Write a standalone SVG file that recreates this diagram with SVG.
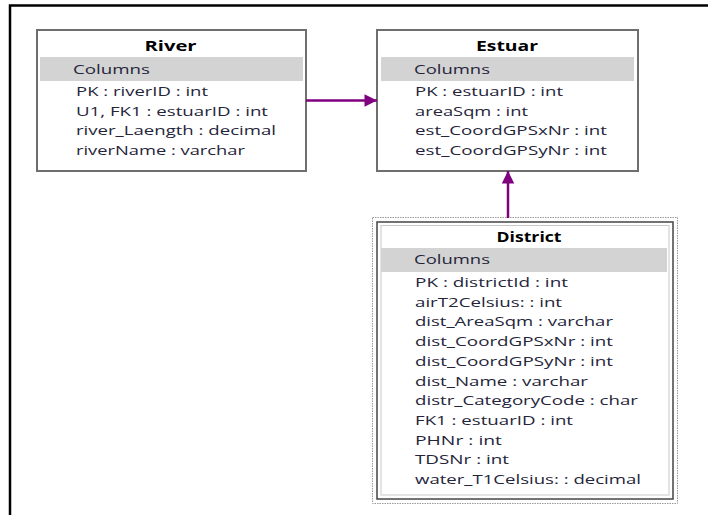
<svg xmlns="http://www.w3.org/2000/svg" width="708" height="515" viewBox="0 0 708 515">
<style>
.frame{fill:none;stroke:#000;stroke-width:2.5}
.box{fill:#fff;stroke:#6e6e6e;stroke-width:2}
.band{fill:#d3d3d3}
.title{font-family:"Open Sans","Noto Sans",sans-serif;font-size:14px;font-weight:bold;fill:#000}
.col{font-family:"Open Sans","Noto Sans",sans-serif;font-size:13.5px;fill:#25253a}
.conn{stroke:#800080;stroke-width:2.5;fill:none}
</style>
<defs>
<marker id="arr" viewBox="0 0 10 10" refX="10" refY="5" markerWidth="6" markerHeight="5" markerUnits="strokeWidth" orient="auto">
<path d="M0,0 L10,5 L0,10 z" fill="#800080"/>
</marker>
</defs>
<rect width="708" height="515" fill="#fff"/>
<path class="frame" d="M10,515 L10,5.5 L708,5.5"/>
<g id="river">
<rect class="box" x="37" y="30" width="269" height="141"/>
<rect class="band" x="40" y="57" width="263" height="24"/>
<text class="title" x="144.5" y="51" textLength="52" lengthAdjust="spacingAndGlyphs">River</text>
<text class="col" x="73" y="74" textLength="77" lengthAdjust="spacingAndGlyphs">Columns</text>
<text class="col" x="76" y="96" textLength="132" lengthAdjust="spacingAndGlyphs">PK : riverID : int</text>
<text class="col" x="76" y="115.5" textLength="192" lengthAdjust="spacingAndGlyphs">U1, FK1 : estuarID : int</text>
<text class="col" x="76" y="135" textLength="200" lengthAdjust="spacingAndGlyphs">river_Laength : decimal</text>
<text class="col" x="76" y="154.5" textLength="169" lengthAdjust="spacingAndGlyphs">riverName : varchar</text>
</g>
<g id="estuar">
<rect class="box" x="377" y="30" width="261" height="141"/>
<rect class="band" x="381" y="57" width="253" height="24"/>
<text class="title" x="476" y="51" textLength="62" lengthAdjust="spacingAndGlyphs">Estuar</text>
<text class="col" x="414" y="74" textLength="76" lengthAdjust="spacingAndGlyphs">Columns</text>
<text class="col" x="415" y="96" textLength="148" lengthAdjust="spacingAndGlyphs">PK : estuarID : int</text>
<text class="col" x="415" y="115.5" textLength="113" lengthAdjust="spacingAndGlyphs">areaSqm : int</text>
<text class="col" x="415" y="135" textLength="192" lengthAdjust="spacingAndGlyphs">est_CoordGPSxNr : int</text>
<text class="col" x="415" y="154.5" textLength="192" lengthAdjust="spacingAndGlyphs">est_CoordGPSyNr : int</text>
</g>
<g id="district">
<rect x="372.5" y="217.5" width="305" height="286" fill="#fff" stroke="#9a9a9a" stroke-width="1" stroke-dasharray="1.5,1"/>
<rect x="377" y="222" width="296" height="277" fill="#fff" stroke="#444" stroke-width="1.5"/>
<rect x="381" y="225.5" width="288" height="269.5" fill="#fff" stroke="#c8c8c8" stroke-width="1"/>
<rect class="band" x="381" y="248" width="286" height="24"/>
<text class="title" x="496.5" y="242" textLength="65" lengthAdjust="spacingAndGlyphs">District</text>
<text class="col" x="414" y="264" textLength="76" lengthAdjust="spacingAndGlyphs">Columns</text>
<text class="col" x="415" y="287" textLength="153" lengthAdjust="spacingAndGlyphs">PK : districtId : int</text>
<text class="col" x="415" y="306.7" textLength="147" lengthAdjust="spacingAndGlyphs">airT2Celsius: : int</text>
<text class="col" x="415" y="326.4" textLength="198" lengthAdjust="spacingAndGlyphs">dist_AreaSqm : varchar</text>
<text class="col" x="415" y="346.1" textLength="198" lengthAdjust="spacingAndGlyphs">dist_CoordGPSxNr : int</text>
<text class="col" x="415" y="365.8" textLength="198" lengthAdjust="spacingAndGlyphs">dist_CoordGPSyNr : int</text>
<text class="col" x="415" y="385.5" textLength="173" lengthAdjust="spacingAndGlyphs">dist_Name : varchar</text>
<text class="col" x="415" y="405.2" textLength="223" lengthAdjust="spacingAndGlyphs">distr_CategoryCode : char</text>
<text class="col" x="415" y="424.9" textLength="158" lengthAdjust="spacingAndGlyphs">FK1 : estuarID : int</text>
<text class="col" x="415" y="444.6" textLength="87" lengthAdjust="spacingAndGlyphs">PHNr : int</text>
<text class="col" x="415" y="464.3" textLength="94" lengthAdjust="spacingAndGlyphs">TDSNr : int</text>
<text class="col" x="415" y="484" textLength="226" lengthAdjust="spacingAndGlyphs">water_T1Celsius: : decimal</text>
</g>
<g id="connectors">
<line class="conn" x1="306" y1="100.5" x2="377" y2="100.5" marker-end="url(#arr)"/>
<line class="conn" x1="508" y1="218" x2="508" y2="171" marker-end="url(#arr)"/>
</g>
</svg>
